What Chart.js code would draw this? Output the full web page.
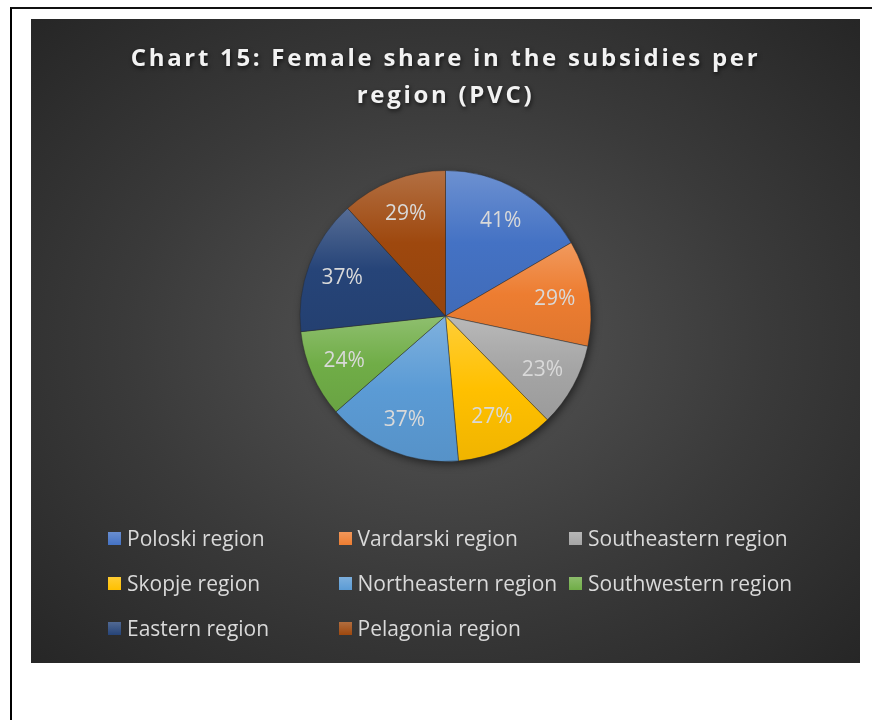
<!DOCTYPE html>
<html>
<head>
<meta charset="utf-8">
<script src="https://cdn.jsdelivr.net/npm/chart.js@4"></script>
<style>
  html, body { margin: 0; padding: 0; background: #fff; }
  body { width: 872px; height: 720px; position: relative; overflow: hidden; }
  .frame {
    position: absolute; left: 10px; top: 7px; width: 900px; height: 760px;
    border-top: 2px solid #111; border-left: 2px solid #000;
  }
  .panel {
    position: absolute; left: 31px; top: 19px; width: 829px; height: 644px;
    background: radial-gradient(ellipse farthest-corner at 50% 50%, #565656 0%, #3a3a3a 55%, #262626 100%);
  }
  .panel canvas { position: absolute; left: 0; top: 0; }
  .legend-item {
    position: absolute; height: 30px; display: flex; align-items: center;
    font-family: "Open Sans", sans-serif; font-size: 21px; color: #D9D9D9; white-space: nowrap;
  }
  .legend-item span.box { width: 13px; height: 13px; margin-right: 6px; display: inline-block; }
</style>
</head>
<body>
<div class="frame"></div>
<div class="panel" id="panel">
  <canvas id="pieChart"></canvas>
</div>
<script>
// datos del gráfico
const regions = ['Poloski region', 'Vardarski region', 'Southeastern region', 'Skopje region',
                 'Northeastern region', 'Southwestern region', 'Eastern region', 'Pelagonia region'];
const femaleShare = [41, 29, 23, 27, 37, 24, 37, 29];
const shareLabels = ['41%', '29%', '23%', '27%', '37%', '24%', '37%', '29%'];
const regionColors = ['#4472C4', '#ED7D31', '#A5A5A5', '#FFC000', '#5B9BD5', '#70AD47', '#264478', '#9E480E'];
const titleLines = ['Chart 15: Female share in the subsidies per', 'region (PVC)'];

// mezcla un color con blanco (t > 0) o negro (t < 0)
function shade(hex, t) {
    const n = parseInt(hex.slice(1), 16);
    let r = (n >> 16) & 255, g = (n >> 8) & 255, b = n & 255;
    const target = t > 0 ? 255 : 0, k = Math.abs(t);
    r = Math.round(r + (target - r) * k);
    g = Math.round(g + (target - g) * k);
    b = Math.round(b + (target - b) * k);
    return 'rgb(' + r + ',' + g + ',' + b + ')';
}

// gradiente vertical por porción, como en Excel
function sliceGradient(context) {
    const chart = context.chart;
    const area = chart.chartArea;
    const i = context.dataIndex;
    const base = regionColors[i];
    if (!area) return base;
    const total = femaleShare.reduce((a, b) => a + b, 0);
    let before = 0;
    for (let k = 0; k < i; k++) before += femaleShare[k];
    const start = -Math.PI / 2 + 2 * Math.PI * before / total;
    const end = start + 2 * Math.PI * femaleShare[i] / total;
    const cx = (area.left + area.right) / 2, cy = (area.top + area.bottom) / 2;
    const r = Math.min(area.width, area.height) / 2;
    let ymin = cy, ymax = cy;
    for (let s = 0; s <= 40; s++) {
        const y = cy + r * Math.sin(start + (end - start) * s / 40);
        ymin = Math.min(ymin, y); ymax = Math.max(ymax, y);
    }
    const g = chart.ctx.createLinearGradient(0, ymin, 0, ymax);
    g.addColorStop(0, shade(base, 0.22));
    g.addColorStop(0.5, base);
    g.addColorStop(1, shade(base, -0.06));
    return g;
}

// título con espaciado y sombra
const titleStyle = {
    id: 'titleStyle',
    beforeDraw(chart) {
        const ctx = chart.ctx;
        ctx.save();
        ctx.letterSpacing = '2.7px';
        ctx.shadowColor = 'rgba(0,0,0,0.65)';
        ctx.shadowBlur = 4;
        ctx.shadowOffsetX = 1;
        ctx.shadowOffsetY = 2;
    },
    beforeDatasetsDraw(chart) {
        const ctx = chart.ctx;
        ctx.restore();
        // sombra suave debajo del pastel
        const a = chart.chartArea;
        ctx.save();
        ctx.shadowColor = 'rgba(0,0,0,0.55)';
        ctx.shadowBlur = 9;
        ctx.shadowOffsetX = 2;
        ctx.shadowOffsetY = 3;
        ctx.fillStyle = '#3a3a3a';
        ctx.beginPath();
        ctx.arc((a.left + a.right) / 2, (a.top + a.bottom) / 2, Math.min(a.width, a.height) / 2 - 1, 0, Math.PI * 2);
        ctx.fill();
        ctx.restore();
    }
};

// etiquetas de porcentaje dentro de cada porción
const sliceLabels = {
    id: 'sliceLabels',
    afterDatasetsDraw(chart) {
        const ctx = chart.ctx;
        const meta = chart.getDatasetMeta(0);
        ctx.save();
        ctx.font = '21px "Open Sans", sans-serif';
        ctx.fillStyle = '#D9D9D9';
        ctx.textAlign = 'center';
        ctx.textBaseline = 'middle';
        meta.data.forEach((arc, i) => {
            const p = arc.getProps(['x', 'y', 'startAngle', 'endAngle', 'outerRadius'], true);
            const mid = (p.startAngle + p.endAngle) / 2;
            const r = p.outerRadius * 0.76;
            ctx.fillText(shareLabels[i], p.x + r * Math.cos(mid), p.y + r * Math.sin(mid) + 1);
        });
        ctx.restore();
    }
};

const ctx = document.getElementById('pieChart').getContext('2d');
const pieChart = new Chart(ctx, {
    type: 'pie',
    data: {
        labels: regions,
        datasets: [{
            data: femaleShare,
            backgroundColor: sliceGradient,
            borderColor: 'rgba(40,40,40,0.45)',
            borderWidth: 1
        }]
    },
    options: {
        responsive: true,
        maintainAspectRatio: false,
        animation: false,
        layout: { padding: { top: 0, bottom: 201, left: 0, right: 0 } },
        plugins: {
            legend: { display: false },
            tooltip: { enabled: false },
            title: {
                display: true,
                text: titleLines,
                color: '#F2F2F2',
                font: { family: '"Open Sans", sans-serif', size: 24, weight: 'bold', lineHeight: 37 / 24 },
                padding: { top: 22, bottom: 55 }
            }
        }
    },
    plugins: [titleStyle, sliceLabels]
});

// leyenda en tres columnas
const panel = document.getElementById('panel');
regions.forEach((name, i) => {
    const col = i % 3, row = Math.floor(i / 3);
    const item = document.createElement('div');
    item.className = 'legend-item';
    item.style.left = (77 + col * 230.5) + 'px';
    item.style.top = (504 + row * 45) + 'px';
    const box = document.createElement('span');
    box.className = 'box';
    box.style.background = 'linear-gradient(' + shade(regionColors[i], 0.2) + ', ' + regionColors[i] + ')';
    item.appendChild(box);
    item.appendChild(document.createTextNode(name));
    panel.appendChild(item);
});
</script>
</body>
</html>
